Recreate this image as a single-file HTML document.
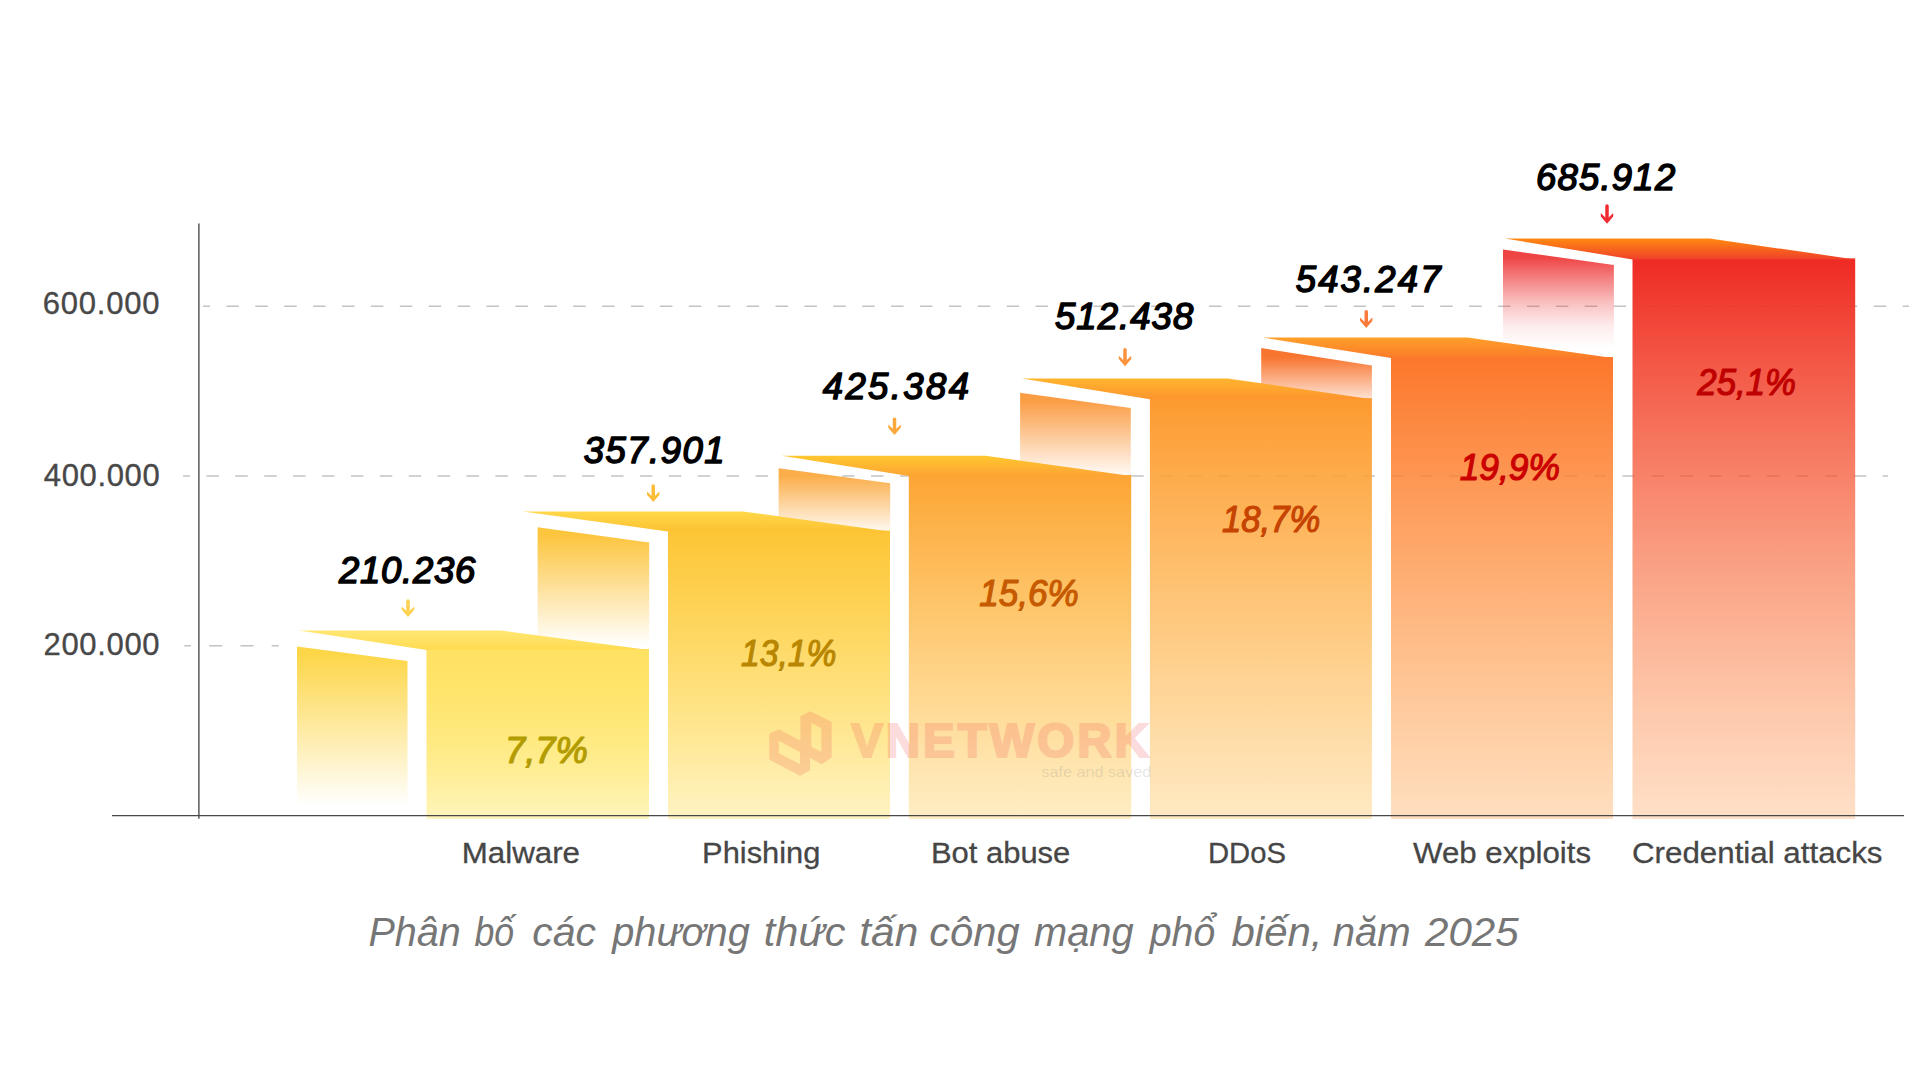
<!DOCTYPE html>
<html lang="vi"><head><meta charset="utf-8">
<title>Phân bố các phương thức tấn công mạng phổ biến, năm 2025</title>
<style>
html,body{margin:0;padding:0;background:#fff;}
body{width:1920px;height:1080px;overflow:hidden;font-family:'Liberation Sans', sans-serif;}
svg{display:block;}
text{font-family:'Liberation Sans', sans-serif;}
.val{font-weight:400;font-style:italic;font-size:36.5px;fill:#000;stroke:#000;stroke-width:1.5px;stroke-linejoin:round;}
.pct{font-style:italic;font-weight:400;font-size:37px;stroke-width:1.2px;stroke-linejoin:round;}
.cat{font-size:29.5px;fill:#464646;stroke:#464646;stroke-width:0.3px;}
.yl{font-size:31px;fill:#484848;stroke:#484848;stroke-width:0.35px;}
.ttl{font-style:italic;font-size:40.5px;fill:#767676;}
</style></head><body>
<svg width="1920" height="1080" viewBox="0 0 1920 1080">
<defs>
<linearGradient id="s0" gradientUnits="userSpaceOnUse" x1="0" y1="653.8" x2="0" y2="806"><stop offset="0" stop-color="#fdd648" stop-opacity="1.000"/><stop offset="1" stop-color="#fdd648" stop-opacity="0.000"/></linearGradient>
<linearGradient id="t0" gradientUnits="userSpaceOnUse" x1="0" y1="630.5" x2="0" y2="650"><stop offset="0" stop-color="#ffe774"/><stop offset="1" stop-color="#ffdb50"/></linearGradient>
<linearGradient id="f0" gradientUnits="userSpaceOnUse" x1="0" y1="650" x2="0" y2="819.0"><stop offset="0" stop-color="#ffe163" stop-opacity="1.000"/><stop offset="1" stop-color="#ffd702" stop-opacity="0.260"/></linearGradient>
<linearGradient id="s1" gradientUnits="userSpaceOnUse" x1="0" y1="534.9" x2="0" y2="645"><stop offset="0" stop-color="#fcc53e" stop-opacity="1.000"/><stop offset="1" stop-color="#fcc53e" stop-opacity="0.000"/></linearGradient>
<linearGradient id="t1" gradientUnits="userSpaceOnUse" x1="0" y1="511.4" x2="0" y2="531.6"><stop offset="0" stop-color="#ffd84a"/><stop offset="1" stop-color="#fcc232"/></linearGradient>
<linearGradient id="f1" gradientUnits="userSpaceOnUse" x1="0" y1="531.6" x2="0" y2="819.0"><stop offset="0" stop-color="#fdc536" stop-opacity="1.000"/><stop offset="1" stop-color="#ffd010" stop-opacity="0.250"/></linearGradient>
<linearGradient id="s2" gradientUnits="userSpaceOnUse" x1="0" y1="475.8" x2="0" y2="536"><stop offset="0" stop-color="#fbae4a" stop-opacity="1.000"/><stop offset="1" stop-color="#fbae4a" stop-opacity="0.000"/></linearGradient>
<linearGradient id="t2" gradientUnits="userSpaceOnUse" x1="0" y1="455.8" x2="0" y2="476"><stop offset="0" stop-color="#ffc72e"/><stop offset="1" stop-color="#fda434"/></linearGradient>
<linearGradient id="f2" gradientUnits="userSpaceOnUse" x1="0" y1="476" x2="0" y2="819.0"><stop offset="0" stop-color="#fda535" stop-opacity="1.000"/><stop offset="1" stop-color="#ffc030" stop-opacity="0.280"/></linearGradient>
<linearGradient id="s3" gradientUnits="userSpaceOnUse" x1="0" y1="400.4" x2="0" y2="479"><stop offset="0" stop-color="#fb9d45" stop-opacity="1.000"/><stop offset="1" stop-color="#fb9d45" stop-opacity="0.000"/></linearGradient>
<linearGradient id="t3" gradientUnits="userSpaceOnUse" x1="0" y1="378.4" x2="0" y2="399.2"><stop offset="0" stop-color="#ffb52e"/><stop offset="1" stop-color="#fd952e"/></linearGradient>
<linearGradient id="f3" gradientUnits="userSpaceOnUse" x1="0" y1="399.2" x2="0" y2="819.0"><stop offset="0" stop-color="#fd9a30" stop-opacity="1.000"/><stop offset="1" stop-color="#ffb638" stop-opacity="0.300"/></linearGradient>
<linearGradient id="s4" gradientUnits="userSpaceOnUse" x1="0" y1="356.9" x2="0" y2="410"><stop offset="0" stop-color="#f8752f" stop-opacity="1.000"/><stop offset="1" stop-color="#f8752f" stop-opacity="0.000"/></linearGradient>
<linearGradient id="t4" gradientUnits="userSpaceOnUse" x1="0" y1="337.6" x2="0" y2="358"><stop offset="0" stop-color="#ffa02a"/><stop offset="1" stop-color="#fb7a2a"/></linearGradient>
<linearGradient id="f4" gradientUnits="userSpaceOnUse" x1="0" y1="358" x2="0" y2="819.0"><stop offset="0" stop-color="#fc772b" stop-opacity="1.000"/><stop offset="1" stop-color="#ff9a38" stop-opacity="0.320"/></linearGradient>
<linearGradient id="s5" gradientUnits="userSpaceOnUse" x1="0" y1="257.2" x2="0" y2="348"><stop offset="0" stop-color="#ee3a3a" stop-opacity="0.950"/><stop offset="0.25" stop-color="#ee3a3a" stop-opacity="0.620"/><stop offset="0.5" stop-color="#ee3a3a" stop-opacity="0.320"/><stop offset="0.75" stop-color="#ee3a3a" stop-opacity="0.100"/><stop offset="1" stop-color="#ee3a3a" stop-opacity="0.000"/></linearGradient>
<linearGradient id="t5" gradientUnits="userSpaceOnUse" x1="0" y1="238.6" x2="0" y2="259.4"><stop offset="0" stop-color="#ff8a10"/><stop offset="1" stop-color="#f0402a"/></linearGradient>
<linearGradient id="f5" gradientUnits="userSpaceOnUse" x1="0" y1="259.4" x2="0" y2="819.0"><stop offset="0" stop-color="#ee2a24" stop-opacity="1.000"/><stop offset="1" stop-color="#ff9646" stop-opacity="0.300"/></linearGradient>
</defs>
<rect width="1920" height="1080" fill="#ffffff"/>
<g stroke="#c3c3c3" stroke-width="1.4" fill="none">
<line x1="203" y1="306.3" x2="1909" y2="306.3" stroke-dasharray="12.5 16.4" stroke-dashoffset="5.5"/>
<line x1="183" y1="476" x2="1888" y2="476" stroke-dasharray="12.5 16.4" stroke-dashoffset="5.5"/>
<line x1="184.25" y1="645.8" x2="278.75" y2="645.8" stroke-dasharray="13.2 18.1" stroke-dashoffset="6.45"/>
</g>
<polygon points="297,646.5 407.5,661 407.5,806 297,806" fill="url(#s0)"/>
<polygon points="537.6,527.2 649.2,542.5 649.2,645 537.6,645" fill="url(#s1)"/>
<polygon points="778.6,468.3 890.2,483.2 890.2,536 778.6,536" fill="url(#s2)"/>
<polygon points="1020.1,392.7 1130.8,408 1130.8,479 1020.1,479" fill="url(#s3)"/>
<polygon points="1261.2,348.1 1371.9,365.6 1371.9,410 1261.2,410" fill="url(#s4)"/>
<polygon points="1503,249.5 1613.9,264.9 1613.9,348 1503,348" fill="url(#s5)"/>
<rect x="426.5" y="649.0" width="222.5" height="170.0" fill="url(#f0)"/>
<polygon points="299,630.5 501,630.5 649,650 426.5,650" fill="url(#t0)"/>
<rect x="668" y="530.6" width="222.0" height="288.4" fill="url(#f1)"/>
<polygon points="523,511.4 742.8,511.4 889.8,531.6 668,531.6" fill="url(#t1)"/>
<rect x="908.8" y="475.0" width="222.4" height="344.0" fill="url(#f2)"/>
<polygon points="781.9,455.8 985.3,455.8 1131.2,476 908.8,476" fill="url(#t2)"/>
<rect x="1149.9" y="398.2" width="222.0" height="420.8" fill="url(#f3)"/>
<polygon points="1021.9,378.4 1227.5,378.4 1371.9,399.2 1149.9,399.2" fill="url(#t3)"/>
<rect x="1391" y="357.0" width="222.0" height="462.0" fill="url(#f4)"/>
<polygon points="1263,337.6 1467.5,337.6 1613,358 1391,358" fill="url(#t4)"/>
<rect x="1632.5" y="258.4" width="222.7" height="560.6" fill="url(#f5)"/>
<polygon points="1505.2,238.6 1709.7,238.6 1855.2,259.4 1632.5,259.4" fill="url(#t5)"/>
<g stroke="#484848" stroke-width="1.35" fill="none">
<line x1="198.9" y1="223.5" x2="198.9" y2="818.8"/>
<line x1="112" y1="815.6" x2="1904" y2="815.6"/>
</g>
<g fill="#f05050" stroke="#f05050" opacity="0.2">
<path stroke="none" fill-rule="evenodd" d="M810.4 711.3 L831.7 722.1 L831.7 757.5 L821.7 764.2 L810 757.9 L810 770.4 L800 775.8 L769.2 759.6 L769.2 733.8 L778.8 729.2 L800.4 740.8 L800.4 716.3 Z M811.3 722.9 L821.3 728.3 L821.3 751.7 L811.3 746.7 Z M778.8 740.8 L800 752.1 L800 764.2 L778.8 753.3 Z"/>
<text x="851.2" y="757.2" font-size="47.5" font-weight="700" textLength="297.6" lengthAdjust="spacing" stroke-width="2.2" stroke-linejoin="miter">VNETWORK</text>
</g>
<text x="1041.3" y="777" font-size="14.5" fill="#888" fill-opacity="0.22" textLength="110" lengthAdjust="spacingAndGlyphs">safe and saved</text>
<text class="yl" x="42.75" y="313.60" textLength="116.85" lengthAdjust="spacing" >600.000</text>
<text class="yl" x="43.75" y="485.90" textLength="116.00" lengthAdjust="spacing" >400.000</text>
<text class="yl" x="43.50" y="654.80" textLength="116.10" lengthAdjust="spacing" >200.000</text>
<text class="val" x="339.00" y="583.15" textLength="136.25" lengthAdjust="spacing" >210.236</text>
<path d="M408 601.00 L408 613.00" stroke="#fdd24e" stroke-width="3.5" stroke-linecap="round" fill="none"/>
<polygon fill="#fdd24e" points="401.80,606.40 408.00,612.60 414.20,606.40 414.20,609.80 408.00,617.00 401.80,609.80"/>
<text class="val" x="583.75" y="463.15" textLength="140.75" lengthAdjust="spacing" >357.901</text>
<path d="M653.25 486.00 L653.25 498.00" stroke="#fbbd38" stroke-width="3.5" stroke-linecap="round" fill="none"/>
<polygon fill="#fbbd38" points="647.05,491.40 653.25,497.60 659.45,491.40 659.45,494.80 653.25,502.00 647.05,494.80"/>
<text class="val" x="822.75" y="399.40" textLength="146.25" lengthAdjust="spacing" >425.384</text>
<path d="M894.5 419.25 L894.5 431.00" stroke="#fba83c" stroke-width="3.5" stroke-linecap="round" fill="none"/>
<polygon fill="#fba83c" points="888.30,424.40 894.50,430.60 900.70,424.40 900.70,427.80 894.50,435.00 888.30,427.80"/>
<text class="val" x="1055.00" y="329.40" textLength="138.25" lengthAdjust="spacing" >512.438</text>
<path d="M1125 349.75 L1125 362.25" stroke="#fb923c" stroke-width="3.5" stroke-linecap="round" fill="none"/>
<polygon fill="#fb923c" points="1118.80,355.65 1125.00,361.85 1131.20,355.65 1131.20,359.05 1125.00,366.25 1118.80,359.05"/>
<text class="val" x="1295.75" y="291.90" textLength="144.75" lengthAdjust="spacing" >543.247</text>
<path d="M1366.25 311.75 L1366.25 324.00" stroke="#fb7a3c" stroke-width="3.5" stroke-linecap="round" fill="none"/>
<polygon fill="#fb7a3c" points="1360.05,317.40 1366.25,323.60 1372.45,317.40 1372.45,320.80 1366.25,328.00 1360.05,320.80"/>
<text class="val" x="1535.90" y="190.30" textLength="139.30" lengthAdjust="spacing" >685.912</text>
<path d="M1607 206.05 L1607 219.70" stroke="#f02a30" stroke-width="3.5" stroke-linecap="round" fill="none"/>
<polygon fill="#f02a30" points="1600.80,213.10 1607.00,219.30 1613.20,213.10 1613.20,216.50 1607.00,223.70 1600.80,216.50"/>
<text class="pct" x="505.00" y="762.50" textLength="82.90" lengthAdjust="spacingAndGlyphs" fill="#b39c00" stroke="#b39c00">7,7%</text>
<text class="pct" x="741.10" y="665.60" textLength="95.30" lengthAdjust="spacingAndGlyphs" fill="#b88600" stroke="#b88600">13,1%</text>
<text class="pct" x="979.20" y="606.30" textLength="99.50" lengthAdjust="spacingAndGlyphs" fill="#c65a00" stroke="#c65a00">15,6%</text>
<text class="pct" x="1222.00" y="532.20" textLength="98.20" lengthAdjust="spacingAndGlyphs" fill="#c64300" stroke="#c64300">18,7%</text>
<text class="pct" x="1459.70" y="480.00" textLength="100.30" lengthAdjust="spacingAndGlyphs" fill="#cb0000" stroke="#cb0000">19,9%</text>
<text class="pct" x="1697.30" y="395.10" textLength="98.60" lengthAdjust="spacingAndGlyphs" fill="#bf0000" stroke="#bf0000">25,1%</text>
<text class="cat" x="461.75" y="863.20" textLength="118.25" lengthAdjust="spacingAndGlyphs" >Malware</text>
<text class="cat" x="702.10" y="863.20" textLength="118.30" lengthAdjust="spacingAndGlyphs" >Phishing</text>
<text class="cat" x="930.90" y="863.20" textLength="139.40" lengthAdjust="spacingAndGlyphs" >Bot abuse</text>
<text class="cat" x="1208.00" y="863.20" textLength="78.00" lengthAdjust="spacingAndGlyphs" >DDoS</text>
<text class="cat" x="1413.10" y="863.20" textLength="177.90" lengthAdjust="spacingAndGlyphs" >Web exploits</text>
<text class="cat" x="1632.00" y="863.20" textLength="250.50" lengthAdjust="spacingAndGlyphs" >Credential attacks</text>
<text class="ttl" y="946.2"><tspan x="368.50" textLength="92.25" lengthAdjust="spacingAndGlyphs">Phân</tspan> <tspan x="474.50" textLength="39.75" lengthAdjust="spacingAndGlyphs">bố</tspan> <tspan x="532.25" textLength="63.75" lengthAdjust="spacingAndGlyphs">các</tspan> <tspan x="612.25" textLength="137.50" lengthAdjust="spacingAndGlyphs">phương</tspan> <tspan x="763.75" textLength="81.75" lengthAdjust="spacingAndGlyphs">thức</tspan> <tspan x="859.25" textLength="59.00" lengthAdjust="spacingAndGlyphs">tấn</tspan> <tspan x="929.25" textLength="90.50" lengthAdjust="spacingAndGlyphs">công</tspan> <tspan x="1034.00" textLength="99.50" lengthAdjust="spacingAndGlyphs">mạng</tspan> <tspan x="1149.75" textLength="65.50" lengthAdjust="spacingAndGlyphs">phổ</tspan> <tspan x="1231.50" textLength="91.00" lengthAdjust="spacingAndGlyphs">biến,</tspan> <tspan x="1332.75" textLength="78.00" lengthAdjust="spacingAndGlyphs">năm</tspan> <tspan x="1425.00" textLength="93.75" lengthAdjust="spacingAndGlyphs">2025</tspan></text>
</svg>
</body></html>
